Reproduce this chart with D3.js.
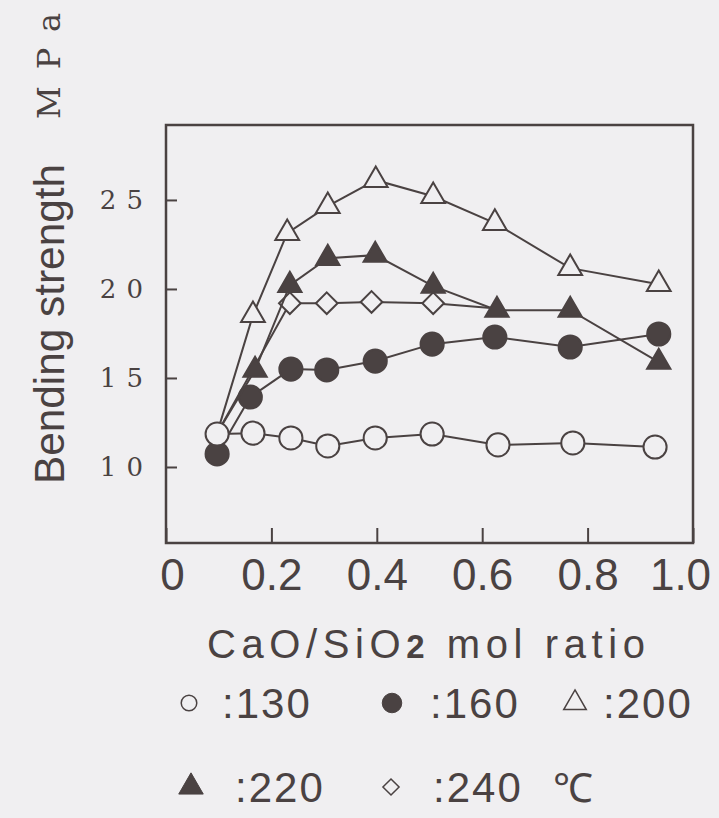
<!DOCTYPE html>
<html><head><meta charset="utf-8">
<script src="https://cdn.jsdelivr.net/npm/d3@7"></script>
<style>html,body{margin:0;padding:0;background:#f0eff1;} svg{display:block;}</style>
</head><body>
<script>
// ---- data ----
const xTickValues = [0, 0.2, 0.4, 0.6, 0.8, 1.0];
const xTickLabels = ["0", "0.2", "0.4", "0.6", "0.8", "1.0"];
const yTickValues = [10, 15, 20, 25];
const yTickLabels = ["1 0", "1 5", "2 0", "2 5"];

const ratio130 = [0.097, 0.165, 0.237, 0.307, 0.397, 0.505, 0.63, 0.772, 0.928];
const strength130 = [11.85, 11.9, 11.63, 11.18, 11.63, 11.85, 11.24, 11.35, 11.12];

const ratio160 = [0.097, 0.16, 0.237, 0.305, 0.397, 0.505, 0.624, 0.767, 0.935];
const strength160 = [10.73, 13.93, 15.5, 15.45, 15.95, 16.9, 17.3, 16.74, 17.47];

const ratio200 = [0.097, 0.165, 0.23, 0.307, 0.398, 0.507, 0.624, 0.767, 0.935];
const strength200 = [11.9, 18.53, 23.13, 24.65, 26.11, 25.21, 23.7, 21.17, 20.27];

const ratio220 = [0.097, 0.169, 0.235, 0.307, 0.397, 0.507, 0.628, 0.767, 0.935];
const strength220 = [11.9, 15.44, 20.21, 21.73, 21.9, 20.16, 18.81, 18.81, 15.89];

const ratio240 = [0.097, 0.235, 0.305, 0.39, 0.507, 0.628];
const strength240 = [11.9, 19.2, 19.2, 19.27, 19.2, 18.9];

// points whose markers are hidden behind other markers in the original
const hidden200 = [0];
const hidden220 = [0];
const hidden240 = [0, 5];

const seriesNames = ["130", "160", "200", "220", "240"];
const legendLabels = [":130", ":160", ":200", ":220", ":240"];
const unitLabel = "℃";

// ---- layout ----
const W = 719, H = 818;
const ink = "#4a4242";
const bg = "#f0eff1";
const sans = "'Liberation Sans',Arial,sans-serif";
const serif = "'DejaVu Serif','Liberation Serif',serif";
const svg = d3.select("body").append("svg").attr("width", W).attr("height", H);
svg.append("rect").attr("width", W).attr("height", H).attr("fill", bg);

const x = d3.scaleLinear().domain([0, 1]).range([166, 693]);
const y = d3.scaleLinear().domain([5.73, 29.21]).range([543, 125]);

// diamond symbol (square rotated)
const diamond = { draw(ctx, size) { const r = Math.sqrt(size / 2); ctx.moveTo(0, -r); ctx.lineTo(r, 0); ctx.lineTo(0, r); ctx.lineTo(-r, 0); ctx.closePath(); } };

const styles = {
  "130": { type: d3.symbolCircle, size: 420, fill: bg },
  "160": { type: d3.symbolCircle, size: 420, fill: ink },
  "200": { type: d3.symbolTriangle, size: 245, fill: bg },
  "220": { type: d3.symbolTriangle, size: 235, fill: ink },
  "240": { type: diamond, size: 235, fill: bg }
};

const series = {
  "130": { xs: ratio130, ys: strength130, hidden: [] },
  "160": { xs: ratio160, ys: strength160, hidden: [] },
  "200": { xs: ratio200, ys: strength200, hidden: hidden200 },
  "220": { xs: ratio220, ys: strength220, hidden: hidden220 },
  "240": { xs: ratio240, ys: strength240, hidden: hidden240 }
};

// frame
svg.append("rect").attr("x", x(0)).attr("y", y.range()[1])
  .attr("width", x(1) - x(0)).attr("height", y.range()[0] - y.range()[1])
  .attr("fill", "none").attr("stroke", ink).attr("stroke-width", 2.5);

// y axis
const yAxis = svg.append("g").attr("transform", `translate(${x(0)},0)`)
  .call(d3.axisLeft(y).tickValues(yTickValues).tickSize(-11).tickPadding(22)
    .tickFormat((d, i) => yTickLabels[i]));
yAxis.select(".domain").remove();
yAxis.selectAll(".tick line").attr("stroke", ink).attr("stroke-width", 2);
yAxis.selectAll(".tick text").attr("fill", ink)
  .style("font-family", serif).style("font-size", "26px")
  .style("letter-spacing", "1px");

// x axis
const xAxis = svg.append("g").attr("transform", `translate(0,${y.range()[0]})`)
  .call(d3.axisBottom(x).tickValues(xTickValues).tickSize(-15)
    .tickFormat((d, i) => xTickLabels[i]));
xAxis.select(".domain").remove();
xAxis.selectAll(".tick line").attr("stroke", ink).attr("stroke-width", 2);
xAxis.selectAll(".tick text").attr("fill", ink).attr("y", 47).attr("dy", "0")
  .attr("dx", (d, i) => i === 0 ? 6 : (i === xTickValues.length - 1 ? -13 : 0))
  .style("font-family", sans).style("font-size", "44px");

// axis titles
svg.append("text").attr("transform", "translate(64,324) rotate(-90)")
  .attr("text-anchor", "middle").attr("fill", ink)
  .style("font-family", sans).style("font-size", "43px")
  .attr("textLength", 320).attr("lengthAdjust", "spacingAndGlyphs")
  .text("Bending strength");
svg.append("text").attr("transform", "translate(60,66) rotate(-90)")
  .attr("text-anchor", "middle").attr("fill", ink)
  .style("font-family", serif).style("font-size", "32px")
  .attr("textLength", 106).attr("lengthAdjust", "spacing")
  .text("MPa");

const xt = svg.append("text").attr("x", 426).attr("y", 658).attr("text-anchor", "middle")
  .attr("fill", ink).style("font-family", sans).style("font-size", "40px")
  .attr("textLength", 438).attr("lengthAdjust", "spacing");
xt.append("tspan").text("CaO/SiO");
xt.append("tspan").style("font-size", "33px").style("font-weight", "bold").text("2");
xt.append("tspan").text(" mol ratio");

// series
const line = d3.line().x(d => x(d[0])).y(d => y(d[1]));
const drawOrder = ["160", "240", "220", "200", "130"];
drawOrder.forEach(name => {
  const s = series[name], st = styles[name];
  const pts = s.xs.map((v, i) => [v, s.ys[i], i]);
  svg.append("path").datum(pts).attr("d", line).attr("fill", "none")
    .attr("stroke", ink).attr("stroke-width", 2);
  svg.append("g").selectAll("path").data(pts.filter(p => !s.hidden.includes(p[2])))
    .join("path")
    .attr("transform", d => `translate(${x(d[0])},${y(d[1])})`)
    .attr("d", d3.symbol().type(st.type).size(st.size))
    .attr("fill", st.fill).attr("stroke", ink).attr("stroke-width", 2);
});

// legend
const legendRows = [[0, 1, 2], [3, 4]];
const symX = [[189, 392, 575], [191, 391]];
const txtX = [[222, 430, 603], [235, 433]];
const rowY = [718, 802];
const legendSymbolSize = { "130": 190, "160": 300, "200": 220, "220": 260, "240": 130 };
legendRows.forEach((row, r) => {
  row.forEach((k, c) => {
    const name = seriesNames[k], st = styles[name];
    svg.append("path")
      .attr("transform", `translate(${symX[r][c]},${rowY[r] - 15})`)
      .attr("d", d3.symbol().type(st.type).size(legendSymbolSize[name]))
      .attr("fill", st.fill).attr("stroke", ink).attr("stroke-width", name === "160" || name === "220" ? 1 : 1.5);
    svg.append("text").attr("x", txtX[r][c]).attr("y", rowY[r]).attr("fill", ink)
      .style("font-family", sans).style("font-size", "42px")
      .style("letter-spacing", "2px")
      .text(legendLabels[k]);
  });
});
svg.append("text").attr("x", 553).attr("y", rowY[1]).attr("fill", ink)
  .style("font-family", sans).style("font-size", "40px")
  .text(unitLabel);
</script>
</body></html>
